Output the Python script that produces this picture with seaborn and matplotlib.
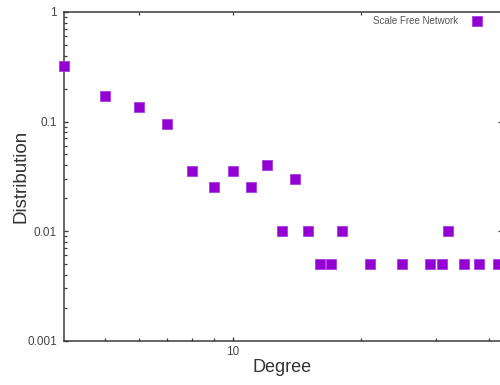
import matplotlib
matplotlib.use("Agg")
import matplotlib.pyplot as plt
import matplotlib.ticker as mticker
import seaborn as sns
import pandas as pd

# Degree distribution of a scale-free network
degree = [4, 5, 6, 7, 8, 9, 10, 11, 12, 13, 14, 15, 16, 17, 18, 21, 25, 29, 31, 32, 35, 38, 42]
distribution = [0.32, 0.17, 0.135, 0.095, 0.035, 0.025, 0.035, 0.025, 0.04, 0.01, 0.03, 0.01,
                0.005, 0.005, 0.01, 0.005, 0.005, 0.005, 0.005, 0.01, 0.005, 0.005, 0.005]
series_name = "Scale Free Network"
y_tick_values = [1, 0.1, 0.01, 0.001]
y_tick_labels = ["1", "0.1", "0.01", "0.001"]
x_tick_values = [10]
x_tick_labels = ["10"]

df = pd.DataFrame({"Degree": degree, "Distribution": distribution})

sns.set_theme(style="white")
plt.rcParams["font.family"] = ["Liberation Sans", "DejaVu Sans"]

W, H = 500, 385
fig = plt.figure(figsize=(W / 100, H / 100), dpi=100)
left, right, top, bottom = 64, 501, 12, 340.5
ax = fig.add_axes([left / W, 1 - bottom / H, (right - left) / W, (bottom - top) / H])

sns.scatterplot(data=df, x="Degree", y="Distribution", ax=ax, marker="s", s=62,
                color="#9400D3", edgecolor="#a43fe0", linewidth=0.6,
                label=series_name, zorder=3, clip_on=False)

ax.set_xscale("log")
ax.set_yscale("log")
ax.set_xlim(4, 42.7)
ax.set_ylim(0.001, 1)

spine_col = "#3a3a3a"
for side, sp in ax.spines.items():
    sp.set_color(spine_col)
    sp.set_linewidth(1.1)
ax.spines["right"].set_visible(False)

ax.xaxis.set_major_locator(mticker.FixedLocator(x_tick_values))
ax.xaxis.set_major_formatter(mticker.FixedFormatter(x_tick_labels))
ax.xaxis.set_minor_locator(mticker.FixedLocator([5, 6, 7, 8, 9, 20, 30, 40]))
ax.xaxis.set_minor_formatter(mticker.NullFormatter())
ax.yaxis.set_major_locator(mticker.FixedLocator(y_tick_values))
ax.yaxis.set_major_formatter(mticker.FixedFormatter(y_tick_labels))
ax.yaxis.set_minor_locator(mticker.LogLocator(base=10, subs=range(2, 10)))
ax.yaxis.set_minor_formatter(mticker.NullFormatter())

ax.tick_params(axis="both", which="both", direction="in", color=spine_col,
               labelcolor="#444444", labelsize=8.5, bottom=True, left=True,
               top=False, right=False)
ax.tick_params(axis="both", which="major", length=3, width=1)
ax.tick_params(axis="both", which="minor", length=2.2, width=0.9)
ax.tick_params(axis="x", pad=4)
ax.tick_params(axis="y", pad=5)

# small inward ticks on the top and right edges
top_ax = ax.secondary_xaxis("top")
top_ax.set_xticks([6, 10, 20])
top_ax.xaxis.set_minor_locator(mticker.NullLocator())
top_ax.tick_params(direction="in", length=2.2, width=0.9, color=spine_col, labeltop=False)
top_ax.spines["top"].set_visible(False)
right_ax = ax.secondary_yaxis(1.0)
right_ax.set_yticks([0.1, 0.01])
right_ax.yaxis.set_minor_locator(mticker.NullLocator())
right_ax.tick_params(direction="in", length=2.5, width=0.9, color=spine_col, labelright=False)
right_ax.spines["right"].set_visible(False)

ax.set_xlabel("")
ax.set_ylabel("")
fig.text(282 / W, 1 - 367 / H, "Degree", ha="center", va="center", fontsize=13, color="#333333")
fig.text(21 / W, 1 - 176 / H, "Distribution", ha="center", va="center", rotation=90,
         fontsize=13.5, color="#333333")

leg = ax.legend(loc="upper right", bbox_to_anchor=(482 / W, 1 - 15.5 / H),
                bbox_transform=fig.transFigure, frameon=False, markerfirst=False,
                fontsize=7, handlelength=1.0, handletextpad=1.45, borderpad=0,
                borderaxespad=0, markerscale=1.0)
for t in leg.get_texts():
    t.set_color("#555555")

fig.savefig("out.png", dpi=100)
